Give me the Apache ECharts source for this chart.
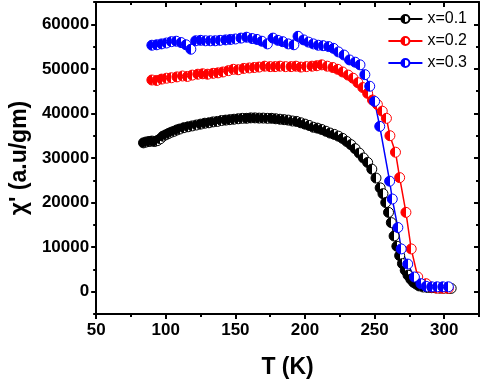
<!DOCTYPE html>
<html>
<head>
<meta charset="utf-8">
<script src="https://cdn.jsdelivr.net/npm/echarts@6/dist/echarts.min.js"></script>
<style>
  html, body { margin: 0; padding: 0; background: #fff; }
  #chart { width: 484px; height: 384px; }
</style>
</head>
<body>
<div id="chart"></div>
<script>
// x = 0.1
const tempA = [84, 86, 88, 90, 92, 94, 96, 98, 100, 102, 104, 106, 108, 110, 113, 116, 119, 122, 125, 128,
  131, 134, 137, 140, 143, 146, 149, 152, 155, 158, 161, 164, 167, 170, 173, 176, 179, 182, 185, 188,
  191, 194, 197, 200, 203, 206, 209, 212, 215, 218, 221, 224, 227, 230, 233, 236, 239, 242, 245, 248,
  251, 254, 256, 258, 260, 262, 264, 266, 268, 270, 272, 274, 276, 278, 280, 282, 285, 288, 291, 294,
  297, 300, 303, 305];
const chiA = [33400, 33600, 33700, 33800, 33700, 33900, 34300, 34900, 35200, 35500, 35800, 36000, 36300, 36500, 36800, 37000, 37200, 37400, 37600, 37800,
  37900, 38100, 38200, 38400, 38500, 38600, 38700, 38800, 38900, 38900, 39000, 39000, 38950, 38950, 38900, 38900, 38800, 38700, 38600, 38500,
  38300, 38200, 37900, 37600, 37300, 36900, 36700, 36400, 36000, 35600, 35300, 34900, 34400, 33700, 33000, 32100, 31100, 30000, 29000, 27500,
  25500, 23300, 22000, 20000, 17800, 15500, 12500, 10200, 8100, 6300, 4800, 3700, 2800, 2100, 1700, 1300, 1050, 950, 900, 850,
  800, 800, 750, 750];

// x = 0.2
const tempB = [90, 93.5, 97, 100.5, 104, 108, 112, 115.5, 119, 123, 126.5, 130, 134, 137.5, 141, 145, 148.5, 152, 156, 160,
  163.5, 167, 171, 175, 178.5, 182, 186, 190, 193.5, 197, 201, 205, 208.5, 212, 216, 220, 223.5, 227, 231, 234.5,
  238, 241.5, 245, 248.5, 252, 255.5, 258.5, 261, 265, 268, 272.5, 276.3, 281, 287, 291, 295, 299, 303];
const chiB = [47500, 47400, 47700, 47900, 48000, 48200, 48400, 48300, 48600, 48800, 48900, 48800, 49000, 49100, 49300, 49600, 49900, 49800, 50100, 50200,
  50300, 50400, 50600, 50500, 50500, 50600, 50500, 50500, 50600, 50400, 50500, 50600, 50700, 50900, 50600, 50300, 49900, 49300, 48600, 47900,
  46900, 45800, 44500, 43000, 42000, 40500, 38900, 35000, 31300, 25600, 17800, 9600, 3300, 1800, 1000, 800, 750, 750];

// x = 0.3
const tempC = [90, 93.5, 97, 100.5, 104, 107.5, 111, 114.5, 118, 121.5, 125, 128.5, 132, 135.5, 139, 143, 146.5, 150, 154, 158,
  162, 165.5, 169, 173, 177, 180.5, 184, 188, 192, 195, 199, 202.5, 206, 209.5, 213, 217, 220.5, 224, 228, 232,
  236, 239.5, 243, 246.5, 250, 253.7, 260.8, 262.7, 266.7, 269.1, 273.8, 278.6, 283.3, 287, 291, 295, 299, 303];
const chiC = [55300, 55400, 55600, 55800, 56100, 56200, 55900, 55400, 54400, 56300, 56400, 56300, 56300, 56300, 56400, 56500, 56600, 56700, 56900, 57100,
  56800, 56600, 56200, 55600, 56900, 56400, 56100, 55600, 55400, 57300, 56500, 56000, 55600, 55300, 55200, 55000, 54600, 53800, 53100, 52000,
  51500, 50900, 48700, 46100, 42700, 37100, 24800, 20800, 14400, 9600, 6200, 3300, 1800, 1200, 1100, 1100, 1100, 1100];

const seriesNames = ['x=0.1', 'x=0.2', 'x=0.3'];
const seriesColors = ['#000000', '#ff0000', '#0000ff'];
const xMajor = [50, 100, 150, 200, 250, 300];
const xMinor = [75, 125, 175, 225, 275, 325];
const yMajor = [0, 10000, 20000, 30000, 40000, 50000, 60000];
const yMinor = [-5000, 5000, 15000, 25000, 35000, 45000, 55000, 65000];

const font = 'Arial, "Liberation Sans", sans-serif';

const pair = (xs, ys) => xs.map((x, i) => [x, ys[i]]);
const halfFill = (c) => new echarts.graphic.LinearGradient(0, 0, 1, 0, [
  { offset: 0, color: c }, { offset: 0.5, color: c },
  { offset: 0.5, color: '#fff' }, { offset: 1, color: '#fff' }
]);

const axisBase = (pos, values, len, inside, show, extra) => Object.assign({
  type: 'value',
  position: pos,
  axisLine: { show: show, onZero: false, lineStyle: { color: '#000', width: 2 } },
  axisTick: { show: true, inside: inside, length: len, customValues: values, lineStyle: { color: '#000', width: 2 } },
  axisLabel: { show: false },
  splitLine: { show: false }
}, extra);

const xr = { min: 50, max: 325 };
const yr = { min: -5000, max: 65000 };

const chart = echarts.init(document.getElementById('chart'));
chart.setOption({
  animation: false,
  grid: { left: 93, right: 5, top: 2, bottom: 69 },
  legend: {
    orient: 'vertical',
    right: 12,
    top: 6,
    itemWidth: 34,
    itemHeight: 10,
    itemGap: 6,
    textStyle: { fontFamily: font, fontSize: 16, color: '#000' },
    data: seriesNames
  },
  xAxis: [
    axisBase('bottom', xMajor, 5, false, true, Object.assign({
      name: 'T (K)',
      nameLocation: 'middle',
      nameGap: 42,
      nameTextStyle: { fontFamily: font, fontSize: 23, fontWeight: 'bold', color: '#000' },
      axisLabel: { show: true, customValues: xMajor, margin: 8, fontFamily: font, fontSize: 17, fontWeight: 'bold', color: '#000',
        formatter: (v) => String(v) }
    }, xr)),
    axisBase('bottom', xMinor, 3, false, false, xr),
    axisBase('top', xMajor, 5, true, true, xr),
    axisBase('top', xMinor, 3, true, false, xr)
  ],
  yAxis: [
    axisBase('left', yMajor, 5, false, true, Object.assign({
      name: "χ' (a.u/gm)",
      nameLocation: 'middle',
      nameGap: 64,
      nameTextStyle: { fontFamily: font, fontSize: 23, fontWeight: 'bold', color: '#000' },
      axisLabel: { show: true, customValues: yMajor, margin: 7, fontFamily: font, fontSize: 17, fontWeight: 'bold', color: '#000',
        formatter: (v) => String(v) }
    }, yr)),
    axisBase('left', yMinor, 3, false, false, yr),
    axisBase('right', yMajor, 5, true, true, yr),
    axisBase('right', yMinor, 3, true, false, yr)
  ],
  series: [[tempA, chiA], [tempB, chiB], [tempC, chiC]].map((d, i) => ({
    name: seriesNames[i],
    type: 'line',
    xAxisIndex: 0,
    yAxisIndex: 0,
    data: pair(d[0], d[1]),
    symbol: 'circle',
    symbolSize: 10,
    showAllSymbol: true,
    lineStyle: { color: seriesColors[i], width: 1.5 },
    itemStyle: { color: halfFill(seriesColors[i]), borderColor: seriesColors[i], borderWidth: 1 }
  }))
});
</script>
</body>
</html>
